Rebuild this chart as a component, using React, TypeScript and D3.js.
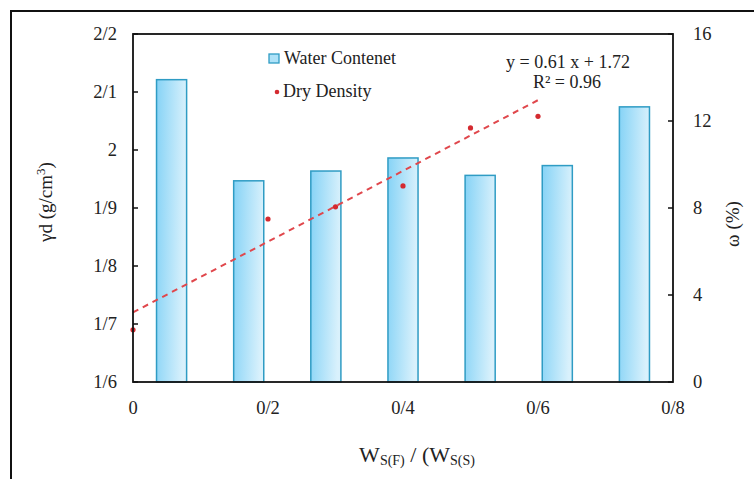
import React from "react";
import * as d3 from "d3";

const categories = ["c1", "c2", "c3", "c4", "c5", "c6", "c7"];
const waterContent = [13.9, 9.25, 9.7, 10.3, 9.5, 9.95, 12.65];
const densityX = [0, 0.2, 0.3, 0.4, 0.5, 0.6];
const densityY = [1.69, 1.881, 1.902, 1.938, 2.038, 2.058];
const trendSlope = 0.61;
const trendIntercept = 1.72;
const trendRange = [0, 0.6];
const leftTicks = [1.6, 1.7, 1.8, 1.9, 2.0, 2.1, 2.2];
const rightTicks = [0, 4, 8, 12, 16];
const xTicks = [0, 0.2, 0.4, 0.6, 0.8];

const fmt = (v: number) => {
  const s = d3.format("~g")(+v.toFixed(2));
  return s.replace(".", "/");
};

export default function App() {
  const W = 754, H = 479;
  const L = 133, R = 673, T = 34, B = 382;
  const x = d3.scaleLinear().domain([0, 0.8]).range([L, R]);
  const yL = d3.scaleLinear().domain([1.6, 2.2]).range([B, T]);
  const yR = d3.scaleLinear().domain([0, 16]).range([B, T]);
  const band = d3.scaleBand().domain(categories).range([L, R]).paddingInner(0.61).paddingOuter(0.305);
  const font = "'Liberation Serif', 'Times New Roman', serif";
  const line = d3.line<number>().x((d) => x(d)).y((d) => yL(trendSlope * d + trendIntercept));

  return (
    <svg width={W} height={H} style={{ position: "absolute", left: 0, top: 0 }} fontFamily={font}>
      <defs>
        <linearGradient id="barg" x1="0" y1="0" x2="1" y2="0.15">
          <stop offset="0" stopColor="#86d3f6" />
          <stop offset="1" stopColor="#d9f1fc" />
        </linearGradient>
      </defs>
      <rect x={0} y={0} width={W} height={H} fill="#ffffff" />
      <path d={`M11,${H} V11 H${W}`} fill="none" stroke="#111" strokeWidth={2} />
      {categories.map((c, i) => (
        <rect
          key={c}
          x={band(c)}
          y={yR(waterContent[i])}
          width={band.bandwidth()}
          height={B - yR(waterContent[i])}
          fill="url(#barg)"
          stroke="#2f9cc4"
          strokeWidth={1.5}
        />
      ))}
      <path d={line(trendRange) || ""} fill="none" stroke="#e0474c" strokeWidth={2} strokeDasharray="6,5" />
      {densityX.map((v, i) => (
        <circle key={i} cx={x(v)} cy={yL(densityY[i])} r={2.6} fill="#d42a30" />
      ))}
      <rect x={L} y={T} width={R - L} height={B - T} fill="none" stroke="#111" strokeWidth={1.8} />
      {leftTicks.map((t) => (
        <g key={"l" + t}>
          <line x1={L} x2={L + 5} y1={yL(t)} y2={yL(t)} stroke="#111" strokeWidth={1.5} />
          <text x={L - 16} y={yL(t)} dy="0.35em" textAnchor="end" fontSize={18.5} fill="#222">
            {fmt(t)}
          </text>
        </g>
      ))}
      {rightTicks.map((t) => (
        <g key={"r" + t}>
          <line x1={R - 5} x2={R} y1={yR(t)} y2={yR(t)} stroke="#111" strokeWidth={1.5} />
          <text x={R + 20} y={yR(t)} dy="0.35em" textAnchor="start" fontSize={18.5} fill="#222">
            {t}
          </text>
        </g>
      ))}
      {xTicks.map((t) => (
        <text key={"x" + t} x={x(t)} y={408} dy="0.35em" textAnchor="middle" fontSize={18.5} fill="#222">
          {fmt(t)}
        </text>
      ))}
      <text transform="translate(52,202) rotate(-90)" textAnchor="middle" fontSize={19} fill="#222">
        γd (g/cm<tspan dy="-7" fontSize={13}>3</tspan><tspan dy="7">)</tspan>
      </text>
      <text transform="translate(739,224) rotate(-90)" textAnchor="middle" fontSize={19} fill="#222">
        ω (%)
      </text>
      <text x={417} y={462} textAnchor="middle" fontSize={22} fill="#222">
        W<tspan fontSize={14} dy="3">S(F)</tspan>
        <tspan dy="-3"> / (W</tspan>
        <tspan fontSize={14} dy="3">S(S)</tspan>
      </text>
      <rect x={269} y={54} width={10} height={9} fill="#aee2f8" stroke="#2f9cc4" strokeWidth={1.3} />
      <text x={284} y={64} fontSize={18} fill="#222">Water Contenet</text>
      <circle cx={277} cy={92} r={2.3} fill="#d42a30" />
      <text x={283} y={97} fontSize={18} fill="#222">Dry Density</text>
      <text x={568} y={68} textAnchor="middle" fontSize={18} fill="#222">y = 0.61 x + 1.72</text>
      <text x={567} y={88} textAnchor="middle" fontSize={18} fill="#222">R² = 0.96</text>
    </svg>
  );
}
